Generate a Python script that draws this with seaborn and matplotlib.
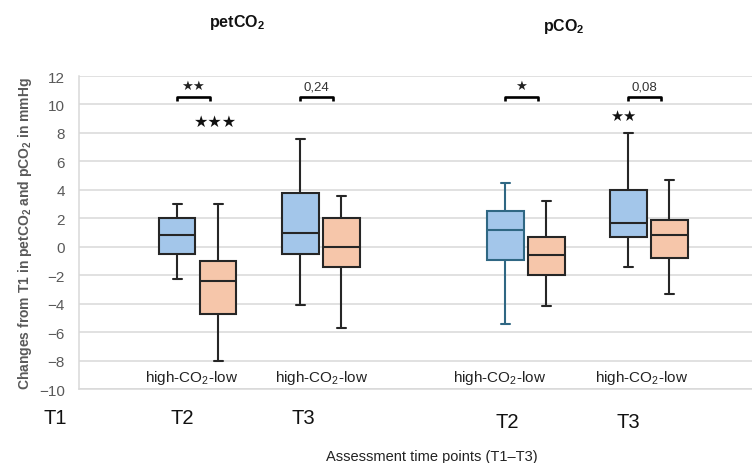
import numpy as np
import pandas as pd
import matplotlib
matplotlib.use("Agg")
import matplotlib.pyplot as plt
import matplotlib.transforms as mtransforms
import seaborn as sns

# ---------------- data ----------------
box_ids = ["petT2_high", "petT2_low", "petT3_high", "petT3_low",
           "pT2_high", "pT2_low", "pT3_high", "pT3_low"]
positions = [0, 1, 3, 4, 8, 9, 11, 12]
groups = ["high", "low", "high", "low", "high", "low", "high", "low"]
whisker_low = [-2.3, -8.0, -4.1, -5.7, -5.4, -4.2, -1.4, -3.3]
q1 = [-0.5, -4.7, -0.5, -1.4, -0.9, -2.0, 0.7, -0.8]
median = [0.8, -2.4, 1.0, 0.0, 1.2, -0.6, 1.7, 0.8]
q3 = [2.0, -1.0, 3.8, 2.0, 2.5, 0.7, 4.0, 1.9]
whisker_high = [3.0, 3.0, 7.6, 3.6, 4.5, 3.2, 8.0, 4.7]

sig_labels = ["★★", "0,24", "★", "0,08"]
sig_box = [0, 3, 8, 11]            # bracket starts over this position
extra_stars = ["★★★", "★★"]
extra_star_pos = [0.95, 10.88]
extra_star_y = [8.8, 9.2]

group_label = "high-CO$_2$-low"
time_labels = ["T1", "T2", "T3", "T2", "T3"]
panel_titles = ["petCO$_2$", "pCO$_2$"]
y_label = "Changes from T1 in petCO$_2$ and pCO$_2$ in mmHg"
x_label = "Assessment time points (T1–T3)"

# long table: each box built from its five read summary values
rows = []
for i, bid in enumerate(box_ids):
    for v in (whisker_low[i], q1[i], median[i], q3[i], whisker_high[i]):
        rows.append({"box": bid, "pos": positions[i], "group": groups[i], "value": v})
df = pd.DataFrame(rows)

# ---------------- style ----------------
sns.set_style("white")
plt.rcParams["font.family"] = ["Liberation Sans", "DejaVu Sans"]
plt.rcParams["mathtext.fontset"] = "custom"
plt.rcParams["mathtext.rm"] = "Liberation Sans"
plt.rcParams["mathtext.bf"] = "Liberation Sans:bold"
plt.rcParams["mathtext.default"] = "regular"

BLUE = "#a3c6ea"
ORANGE = "#f6c6aa"
LINE = "#262626"
TEAL = "#2f6783"
GRID = "#d9d9d9"
palette = {bid: (BLUE if g == "high" else ORANGE) for bid, g in zip(box_ids, groups)}

W, H = 752, 464
fig = plt.figure(figsize=(W / 100, H / 100), dpi=100)
ax_left, ax_right, ax_top, ax_bot = 79, 752, 77, 390
ax = fig.add_axes([ax_left / W, 1 - ax_bot / H, (ax_right - ax_left) / W, (ax_bot - ax_top) / H])

sns.boxplot(data=df, x="pos", y="value", hue="box", palette=palette, native_scale=True,
            width=0.9, whis=(0, 100), saturation=1, linecolor=LINE, linewidth=1.5,
            legend=False, ax=ax, showfliers=False)

# shorten caps, recolour the one teal-outlined box
special = positions[4]
for ln in ax.lines:
    xd = np.asarray(ln.get_xdata(), dtype=float)
    yd = np.asarray(ln.get_ydata(), dtype=float)
    if len(xd) == 2 and yd[0] == yd[1] and abs(xd[1] - xd[0]) < 0.6:
        c = xd.mean()
        ln.set_xdata([c - 0.11, c + 0.11])
    if len(xd) and abs(xd.mean() - special) < 0.3:
        ln.set_color(TEAL)
for p in ax.patches:
    ext = p.get_path().get_extents()
    if abs((ext.x0 + ext.x1) / 2 - special) < 0.3:
        p.set_edgecolor(TEAL)

ax.set_xlim(-2.39, 14.02)
ax.set_ylim(-10, 12)
ax.set_yticks(np.arange(-10, 13, 2))
ax.set_xticks([])
ax.set_xlabel("")
ax.set_ylabel("")
ax.yaxis.grid(True, color=GRID, linewidth=1.1, zorder=0)
ax.set_axisbelow(True)
for s in ["top", "right"]:
    ax.spines[s].set_visible(False)
for s in ["left", "bottom"]:
    ax.spines[s].set_color(GRID)
    ax.spines[s].set_linewidth(1.1)
ax.tick_params(axis="y", length=0, pad=10, labelsize=11, labelcolor="#595959")

# brackets & significance
for lab, b in zip(sig_labels, sig_box):
    x0, x1 = b, b + 0.8
    ax.plot([x0, x0, x1, x1], [10.22, 10.5, 10.5, 10.22], color="black", lw=1.9,
            solid_capstyle="butt", clip_on=False, zorder=5)
    if "★" in lab:
        ax.text((x0 + x1) / 2, 10.9, lab, ha="center", va="bottom", fontsize=9.5,
                family=["DejaVu Sans"], color="#222222")
    else:
        ax.text((x0 + x1) / 2, 10.85, lab, ha="center", va="bottom", fontsize=9.5,
                color="#333333")
for lab, xp, yp in zip(extra_stars, extra_star_pos, extra_star_y):
    ax.text(xp, yp, lab, ha="center", va="center",
            fontsize=11.5 if len(lab) == 3 else 10.5, family=["DejaVu Sans"], color="#111111")

# group labels inside bottom of plot
trans = mtransforms.blended_transform_factory(ax.transData, fig.transFigure)
def px2x(px):
    return (px - 177) / 41.0

for cx in [192, 322, 500, 641]:
    ax.text(px2x(cx), 1 - 378 / H, group_label, transform=trans, ha="center", va="center",
            fontsize=11, color="#222222")

# time point labels below the axes
for lab, cx, cy in zip(time_labels, [55, 182, 303, 507, 628], [419, 419, 419, 423, 423]):
    ax.text(px2x(cx), 1 - cy / H, lab, transform=trans, ha="center", va="center",
            fontsize=14.5, color="#111111", clip_on=False)

# panel titles
for lab, cx, cy in zip(panel_titles, [237, 564], [22, 27]):
    fig.text(cx / W, 1 - cy / H, lab, ha="center", va="center", fontsize=11.5,
             fontweight="bold", color="#111111")

fig.text(432 / W, 1 - 457 / H, x_label, ha="center", va="center", fontsize=10.5, color="#222222")
fig.text(25 / W, 1 - 234 / H, y_label, ha="center", va="center", rotation=90, fontsize=10,
         fontweight="bold", color="#595959")

fig.savefig("out.png", dpi=100)
